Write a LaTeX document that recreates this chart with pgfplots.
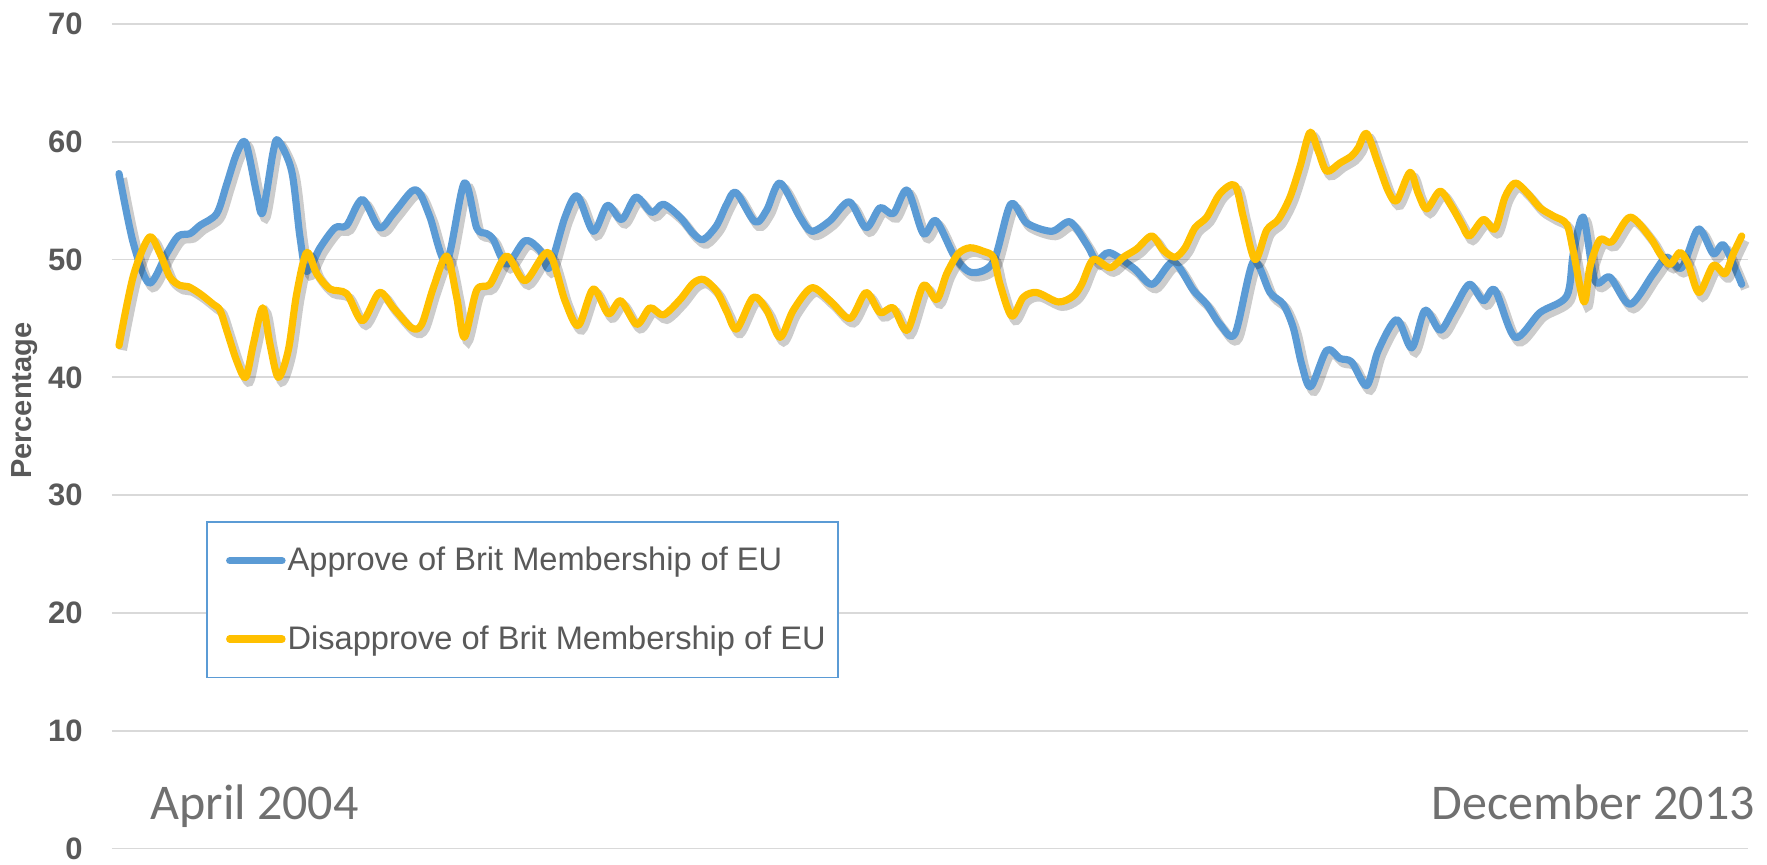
\documentclass[border=0pt]{standalone}
\usepackage{pgfplots}
\pgfplotsset{compat=1.18}
\usepackage{pgfplotstable}
\usepackage{fontspec}
\setmainfont{Liberation Sans}
\newfontfamily\carlito{Carlito}
\definecolor{blueC}{HTML}{5B9BD5}
\definecolor{yellowC}{HTML}{FFC000}
\definecolor{gridC}{HTML}{D9D9D9}
\definecolor{txtC}{HTML}{595959}
\definecolor{dateC}{HTML}{707070}

\pgfplotstableread{
x y
119 57.3
133.3 51.4
149.3 48.0
166.7 50.5
178.3 52.0
190.0 52.2
200.0 52.9
216.7 53.9
226.7 56.4
236.7 59.0
245.7 59.9
256.7 55.6
262.7 54.0
273.3 59.2
278.3 60.1
291.7 57.5
300.0 51.9
306.7 49.0
320.0 51.0
335.0 52.7
346.7 52.9
362.3 55.1
379.3 52.7
393.3 53.9
411.7 55.8
420.0 55.6
430.0 53.6
446.7 49.8
464.3 56.5
476.7 52.7
486.7 52.2
493.3 51.7
506.7 49.6
525.0 51.6
540.0 50.8
549.3 49.3
565.0 53.6
577.3 55.4
593.3 52.4
607.3 54.6
621.7 53.4
636.0 55.3
651.7 54.0
663.3 54.7
680.0 53.6
693.3 52.2
703.3 51.7
716.7 52.9
726.7 54.7
736.0 55.7
755.0 53.2
766.7 54.2
780.0 56.5
800.0 53.6
811.7 52.4
830.0 53.3
849.3 54.9
866.0 52.7
880.0 54.4
893.3 53.9
907.3 55.9
923.3 52.2
936.0 53.3
955.0 50.2
971.7 48.9
993.3 49.8
1010.7 54.7
1026.7 53.1
1051.7 52.4
1070.0 53.2
1086.7 51.3
1096.7 49.9
1109.3 50.6
1133.3 49.3
1152.3 47.9
1173.3 49.8
1193.3 47.4
1206.7 46.2
1220.0 44.5
1235.0 43.7
1253.3 49.8
1270.0 47.2
1283.3 46.2
1293.3 44.2
1301.7 41.1
1310.7 39.2
1326.7 42.3
1340.0 41.6
1351.7 41.3
1366.7 39.3
1378.3 42.3
1396.7 44.9
1411.7 42.5
1425.0 45.7
1440.0 44.0
1453.3 45.7
1469.3 47.9
1483.3 46.5
1495.0 47.4
1515.0 43.4
1540.0 45.5
1566.7 46.9
1573.3 50.5
1583.3 53.6
1595.0 48.2
1610.0 48.5
1630.0 46.2
1653.3 48.8
1666.7 50.2
1681.7 49.3
1698.3 52.6
1713.3 50.5
1724.0 51.2
1741.7 47.9
}\approve

\pgfplotstableread{
x y
119 42.7
133.3 48.6
149.3 51.9
160.0 50.5
170.0 48.5
180.0 47.8
188.3 47.7
200.0 47.1
213.3 46.2
220.0 45.7
226.7 44.0
236.7 41.4
245.7 40.0
253.3 42.8
262.7 45.9
270.0 42.8
278.3 40.0
288.3 42.3
296.7 47.1
306.7 50.6
316.7 48.8
330.0 47.5
346.7 47.1
362.3 44.8
379.3 47.2
393.3 45.9
411.7 44.2
421.7 44.5
433.3 47.6
446.7 50.3
456.7 46.8
464.3 43.4
476.7 47.4
490.0 47.9
506.7 50.3
525.0 48.2
548.3 50.6
565.0 46.5
578.3 44.4
593.3 47.5
608.3 45.4
620.7 46.5
636.7 44.5
650.0 45.9
663.3 45.3
680.0 46.6
693.3 48.0
704.0 48.3
716.7 47.3
726.7 45.6
736.7 44.1
753.3 46.8
766.7 45.7
780.0 43.4
793.3 45.7
811.7 47.6
830.0 46.5
850.0 45.0
866.0 47.2
880.0 45.5
893.3 45.9
907.3 44.0
923.3 47.8
936.7 46.6
946.7 48.8
958.3 50.5
970.0 51.0
983.3 50.7
993.3 50.2
1000.0 47.9
1011.7 45.2
1023.3 46.8
1036.7 47.2
1058.3 46.4
1073.3 46.9
1081.7 47.9
1093.3 50.0
1110.0 49.3
1123.3 50.2
1136.7 50.9
1151.7 52.0
1163.3 50.8
1175.0 50.2
1185.0 51.0
1195.0 52.7
1206.7 53.6
1220.0 55.6
1235.0 56.3
1243.3 53.6
1255.0 50.0
1266.7 52.5
1278.3 53.4
1290.0 55.3
1300.0 57.9
1310.0 60.8
1318.3 59.2
1326.7 57.5
1340.0 58.2
1351.7 58.8
1358.3 59.5
1366.7 60.7
1378.3 58.1
1388.3 55.8
1396.7 55.0
1410.0 57.4
1418.3 55.6
1426.7 54.3
1440.0 55.8
1451.7 54.5
1461.7 53.0
1469.3 52.0
1483.3 53.4
1495.0 52.6
1505.0 55.3
1515.0 56.5
1526.7 55.7
1540.0 54.4
1553.3 53.7
1566.7 53.0
1573.3 50.7
1584.0 46.4
1590.0 49.4
1600.0 51.7
1611.7 51.5
1630.0 53.6
1650.0 51.9
1660.0 50.5
1670.0 49.6
1680.0 50.6
1688.3 49.6
1699.0 47.2
1713.3 49.5
1725.0 48.8
1733.3 50.5
1741.7 52.0
}\disapprove

\begin{document}
\begin{tikzpicture}
\begin{axis}[
  at={(56pt,8.25pt)}, anchor=south west,
  scale only axis, width=818pt, height=412.25pt,
  xmin=112, xmax=1748, ymin=0, ymax=70,
  clip=false,
  ytick={0,10,...,70}, xtick=\empty,
  ymajorgrids, grid style={gridC, line width=0.9pt},
  axis line style={draw=none}, major tick length=0pt,
  tick style={draw=none},
  /pgf/number format/assume math mode=true,
  yticklabel style={font=\fontsize{15.5}{18}\selectfont\bfseries, text=txtC, anchor=east, inner sep=0pt, xshift=-14.5pt},
  ylabel={Percentage},
  every axis y label/.style={at={(axis description cs:-0.0489,0.543)}, rotate=90, anchor=base, font=\fontsize{14.5}{17}\selectfont\bfseries, text=txtC},
  legend style={at={(0.05746,0.3967)}, anchor=north west, draw=blueC, line width=0.75pt, fill=white,
    inner xsep=5pt, inner ysep=11.6pt, row sep=23.9pt, font=\fontsize{16.3}{19}\selectfont, text=txtC,
    nodes={inner sep=1pt}},
  legend cell align=left,
  legend image code/.code={\path[draw=none] (0pt,0pt) -- (33.8pt,0pt); \draw[#1, line width=3.7pt, line cap=round] (6.5pt,0pt) -- (32.6pt,0pt);},
]
\addplot[forget plot, black, opacity=0.2, line width=4.4pt, smooth, tension=0.5, xshift=1.8pt, yshift=-2.3pt] table {\approve};
\addplot[blueC, line width=3.6pt, smooth, tension=0.5, line join=round, line cap=round] table {\approve};
\addlegendentry{Approve of Brit Membership of EU}
\addplot[forget plot, black, opacity=0.2, line width=4.4pt, smooth, tension=0.5, xshift=1.8pt, yshift=-2.3pt] table {\disapprove};
\addplot[yellowC, line width=3.6pt, smooth, tension=0.5, line join=round, line cap=round] table {\disapprove};
\addlegendentry{Disapprove of Brit Membership of EU}
\node[anchor=base west, font=\carlito\fontsize{25}{30}\selectfont, text=dateC, inner sep=0pt] at (axis cs:150,2.42) {April 2004};
\node[anchor=base east, font=\carlito\fontsize{25}{30}\selectfont, text=dateC, inner sep=0pt] at (axis cs:1755,2.42) {December 2013};
\end{axis}
\pgfresetboundingbox
\useasboundingbox (0,0) rectangle (883.5pt,432.5pt);
\end{tikzpicture}
\end{document}
